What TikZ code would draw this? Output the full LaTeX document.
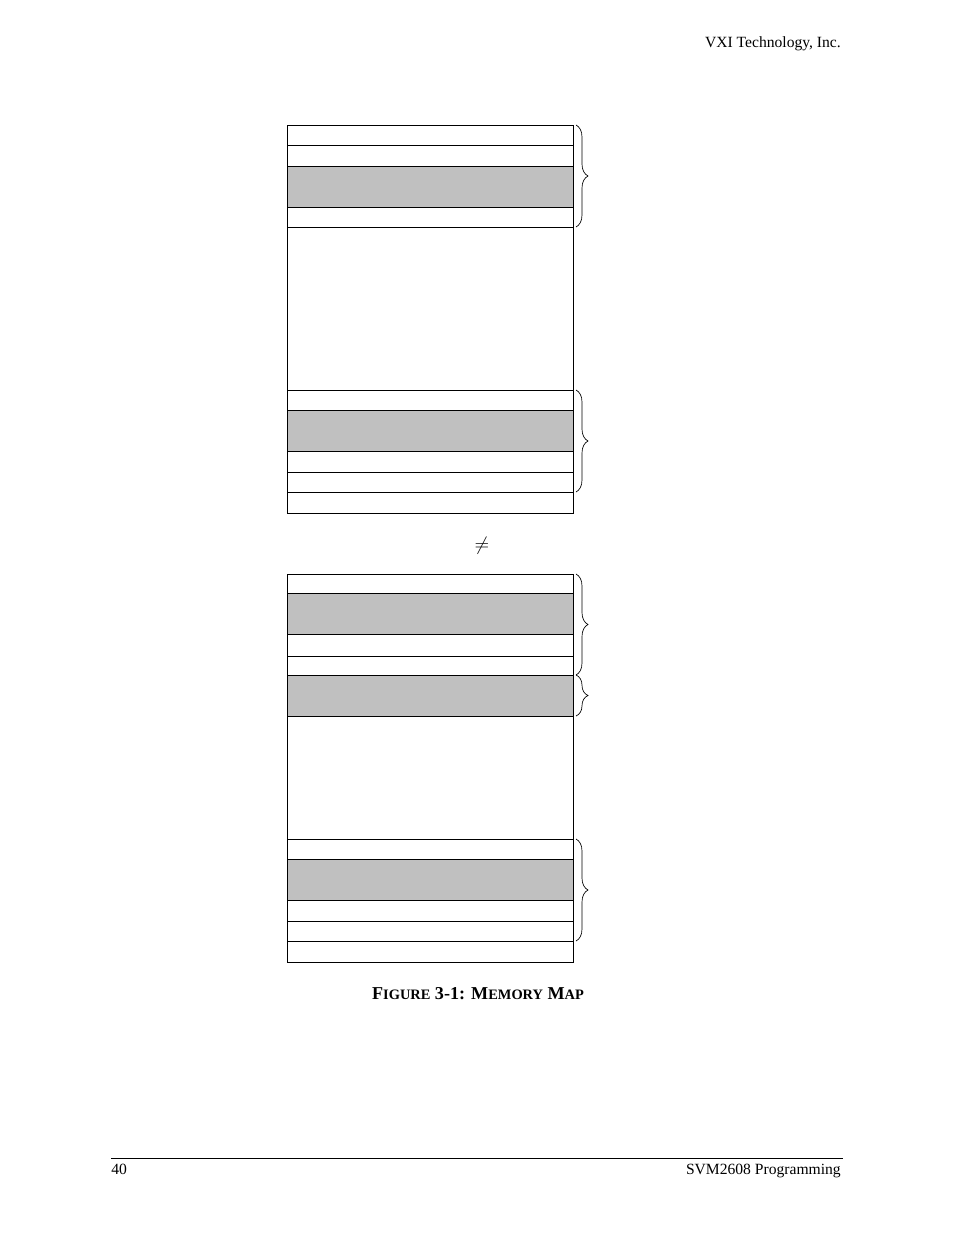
\documentclass[tikz,border=0pt]{standalone}
\usepackage{fontspec}
\setmainfont{Liberation Serif}
\usetikzlibrary{decorations.pathreplacing}
\definecolor{cellgray}{RGB}{192,192,192}

\tikzset{
  cell/.style={draw=black, line width=0.6pt},
  graycell/.style={cell, fill=cellgray},
  membrace/.style={decorate, decoration={brace, amplitude=9pt}, line width=0.5pt},
  pagetext/.style={inner sep=0pt, font=\fontsize{11.7}{14}\selectfont}
}

\begin{document}
\begin{tikzpicture}[x=0.75pt,y=-0.75pt]
\useasboundingbox (0,0) rectangle (954,1235);

\node[pagetext, anchor=base east] (hdr) at (841,47) {VXI Technology, Inc.};

% upper map
\foreach \a/\b in {125/145,145/166,207/227,227/390,390/410,451/472,472/492,492/513}
  \draw[cell] (287,\a) rectangle (573,\b);
\foreach \a/\b in {166/207,410/451}
  \draw[graycell] (287,\a) rectangle (573,\b);
\coordinate (u1) at (576,125);
\coordinate (u2) at (576,227);
\coordinate (u3) at (576,390);
\coordinate (u4) at (576,492);
\draw[membrace] (u1) -- (u2);
\draw[membrace] (u3) -- (u4);

\node[inner sep=0pt, font=\fontsize{14}{16}\selectfont] (ne) at (482,546) {$\neq$};

% lower map
\foreach \a/\b in {574/593,634/656,656/675,716/839,839/859,900/921,921/941,941/962}
  \draw[cell] (287,\a) rectangle (573,\b);
\foreach \a/\b in {593/634,675/716,859/900}
  \draw[graycell] (287,\a) rectangle (573,\b);
\coordinate (l1) at (576,574);
\coordinate (l2) at (576,675);
\coordinate (l3) at (576,716);
\coordinate (l4) at (576,839);
\coordinate (l5) at (576,941);
\draw[membrace] (l1) -- (l2);
\draw[membrace] (l2) -- (l3);
\draw[membrace] (l4) -- (l5);

\node[inner sep=0pt, anchor=base, font=\bfseries\fontsize{13.6}{15}\selectfont] (cap) at (478,999)
  {F{\fontsize{10.8}{12}\selectfont IGURE} 3-1: M{\fontsize{10.8}{12}\selectfont EMORY} M{\fontsize{10.8}{12}\selectfont AP}};

% footer
\coordinate (fl) at (111,1158);
\coordinate (fr) at (843,1158);
\draw[line width=0.6pt] (fl) -- (fr);
\node[pagetext, anchor=base west] (pg) at (111,1174) {40};
\node[pagetext, anchor=base east] (ttl) at (841,1174) {SVM2608 Programming};
\end{tikzpicture}
\end{document}
